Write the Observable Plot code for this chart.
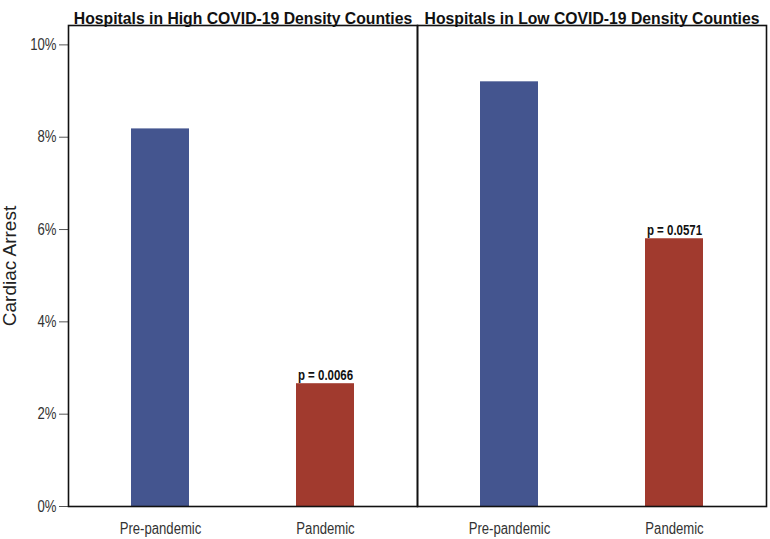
<!DOCTYPE html>
<html>
<head>
<meta charset="utf-8">
<script src="https://cdn.jsdelivr.net/npm/d3@7"></script>
<script src="https://cdn.jsdelivr.net/npm/@observablehq/plot@0.6"></script>
<style>
  html, body { margin: 0; padding: 0; background: #fff; }
  #chart svg { display: block; }
  #chart g[aria-label="y-axis label"] text {
    font-family: "Liberation Sans", Arial, sans-serif !important;
    font-size: 19px !important;
    fill: #222;
  }
</style>
</head>
<body>
<div id="chart"></div>
<script>
const panels = ["Hospitals in High COVID-19 Density Counties", "Hospitals in Low COVID-19 Density Counties"];
const periods = ["Pre-pandemic", "Pandemic"];
const highValues = [8.18, 2.66];
const lowValues = [9.2, 5.8];
const pValues = ["p = 0.0066", "p = 0.0571"];
const yTicks = [0, 2, 4, 6, 8, 10];
const barColors = ["#44558f", "#a13a2e"];

const valuesByPanel = [highValues, lowValues];
const data = [];
panels.forEach((panel, i) => {
  periods.forEach((period, j) => {
    data.push({panel, period, value: valuesByPanel[i][j]});
  });
});
const pData = panels.map((panel, i) => ({panel, period: "Pandemic", value: valuesByPanel[i][1], label: pValues[i]}));

const font = '"Liberation Sans", Arial, sans-serif';

const chart = Plot.plot({
  width: 770,
  height: 539,
  marginLeft: 67,
  marginRight: 4,
  marginTop: 25,
  marginBottom: 33,
  style: {fontFamily: font, background: "#fff", color: "#333"},
  fx: {domain: panels, padding: 0, axis: null},
  x: {domain: periods, paddingInner: 0.65, paddingOuter: 0.38, axis: null},
  y: {domain: [0, 10.42], axis: null},
  color: {domain: periods, range: barColors},
  marks: [
    Plot.barY(data, {fx: "panel", x: "period", y: "value", fill: "period"}),
    Plot.axisY({
      ticks: yTicks,
      tickFormat: d => d + "%",
      tickSize: 9,
      tickPadding: 3,
      fontSize: 16,
      label: "Cardiac Arrest",
      labelAnchor: "center",
      labelArrow: "none",
      labelOffset: 66,
      stroke: "#555"
    }),
    Plot.axisX({
      tickSize: 0,
      tickPadding: 16,
      fontSize: 16,
      label: null
    }),
    Plot.frame({stroke: "#111", strokeWidth: 1.6}),
    Plot.text(panels, {
      fx: d => d,
      text: d => d,
      frameAnchor: "top",
      dy: -13.5,
      fontSize: 16.4,
      fontWeight: "bold",
      fill: "#111",
      className: "panel-title"
    }),
    Plot.text(pData, {
      fx: "panel",
      x: "period",
      y: "value",
      text: "label",
      lineAnchor: "bottom",
      dy: -4,
      fontSize: 14,
      fontWeight: "bold",
      fill: "#111"
    })
  ]
});
document.getElementById("chart").appendChild(chart);

// Emulate a narrow (condensed) face: compress glyphs horizontally.
chart.querySelectorAll("text").forEach(t => {
  if (t.closest('g[aria-label="y-axis label"]')) return;
  const isTitle = !!t.closest(".panel-title");
  const factor = isTitle ? 0.96 : 0.82;
  const len = t.getComputedTextLength();
  if (len > 0) {
    t.setAttribute("textLength", (len * factor).toFixed(2));
    t.setAttribute("lengthAdjust", "spacingAndGlyphs");
  }
});
</script>
</body>
</html>
